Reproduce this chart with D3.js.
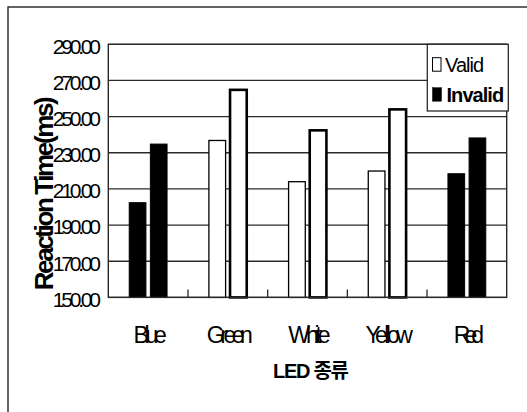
<!DOCTYPE html>
<html>
<head>
<meta charset="utf-8">
<script src="https://cdn.jsdelivr.net/npm/d3@7"></script>
<style>
  html, body { margin: 0; padding: 0; background: #fff; }
  svg { display: block; font-family: "Liberation Sans", Arial, "Noto Sans CJK KR", sans-serif; }
</style>
</head>
<body>
<svg id="chart" width="527" height="412"></svg>
<script>
// LED colour categories and the two reaction-time series (ms)
const categories = ["Blue", "Green", "White", "Yellow", "Red"];
const seriesNames = ["Valid", "Invalid"];
const validTimes = [202.4, 236.8, 214.0, 219.9, 218.4];
const invalidTimes = [234.8, 264.8, 242.4, 254.0, 238.2];
const yTickValues = [150, 170, 190, 210, 230, 250, 270, 290];
const yTitle = "Reaction Time(ms)";
const xTitle = "LED 종류";

const rows = categories.map((c, i) => ({
  category: c,
  values: [
    { series: seriesNames[0], value: validTimes[i] },
    { series: seriesNames[1], value: invalidTimes[i] }
  ]
}));

// plot box
const plotLeft = 108.3, plotRight = 506.7, plotTop = 44.3, plotBottom = 297.4;

const svg = d3.select("#chart");

// outer chart frame (runs past the right and bottom edges)
svg.append("rect")
  .attr("x", 8).attr("y", 7).attr("width", 700).attr("height", 600)
  .attr("fill", "#fff").attr("stroke", "#222").attr("stroke-width", 1.4);

const x0 = d3.scaleBand().domain(categories).range([plotLeft, plotRight]);
const x1 = d3.scaleBand().domain(seriesNames).range([0, x0.bandwidth()])
  .paddingInner(0.21).paddingOuter(0.99);
const y = d3.scaleLinear().domain([150, 290]).range([plotBottom, plotTop]);

// squeeze text horizontally by tightening letter spacing
function squeeze(sel, factor) {
  sel.each(function () {
    const n = this.getComputedTextLength();
    d3.select(this).attr("textLength", n * factor).attr("lengthAdjust", "spacing");
  });
}

// horizontal gridlines
svg.append("g").selectAll("line")
  .data(yTickValues)
  .join("line")
  .attr("x1", plotLeft).attr("x2", plotRight)
  .attr("y1", d => y(d)).attr("y2", d => y(d))
  .attr("stroke", "#2a2a2a").attr("stroke-width", 1.3);

// bars: Blue and Red groups are solid black, the rest are outlined
const solidGroups = new Set(["Blue", "Red"]);
const groups = svg.append("g").selectAll("g")
  .data(rows)
  .join("g")
  .attr("transform", d => `translate(${x0(d.category)},0)`);

groups.selectAll("rect")
  .data(d => d.values.map(v => ({ ...v, category: d.category })))
  .join("rect")
  .attr("x", d => x1(d.series))
  .attr("width", x1.bandwidth())
  .attr("y", d => y(d.value))
  .attr("height", d => y(150) - y(d.value))
  .attr("fill", d => solidGroups.has(d.category) ? "#000" : "#fff")
  .attr("stroke", "#000")
  .attr("stroke-width", d => solidGroups.has(d.category) ? 1 : (d.series === "Valid" ? 1.3 : 2.6));

// plot border
svg.append("rect")
  .attr("x", plotLeft).attr("y", plotTop)
  .attr("width", plotRight - plotLeft).attr("height", plotBottom - plotTop)
  .attr("fill", "none").attr("stroke", "#2a2a2a").attr("stroke-width", 1.4);

// inner category separator ticks
svg.append("g").selectAll("line")
  .data(categories.slice(1))
  .join("line")
  .attr("x1", d => x0(d)).attr("x2", d => x0(d))
  .attr("y1", plotBottom - 8).attr("y2", plotBottom)
  .attr("stroke", "#2a2a2a").attr("stroke-width", 1.3);

// y axis labels
const yAxis = svg.append("g")
  .attr("transform", `translate(${plotLeft},0)`)
  .call(d3.axisLeft(y).tickValues(yTickValues).tickSize(0).tickPadding(7.3)
    .tickFormat(d3.format(".2f")));
yAxis.select(".domain").remove();
yAxis.attr("font-family", null).attr("font-size", null);
yAxis.selectAll("text")
  .attr("font-size", 21)
  .attr("fill", "#000").attr("dy", "0.42em")
  .call(squeeze, 0.75);

// x axis labels
const xAxis = svg.append("g")
  .attr("transform", `translate(0,${plotBottom})`)
  .call(d3.axisBottom(x0).tickSize(0).tickPadding(29.5));
xAxis.select(".domain").remove();
xAxis.attr("font-family", null).attr("font-size", null);
xAxis.selectAll("text")
  .attr("font-size", 23)
  .attr("fill", "#000").attr("dx", 2)
  .call(squeeze, 0.72);

// axis titles
svg.append("text")
  .attr("transform", "translate(52.5,193.3) rotate(-90)")
  .attr("text-anchor", "middle")
  .attr("font-size", 26).attr("font-weight", "bold")
  .attr("textLength", 194).attr("lengthAdjust", "spacing")
  .text(yTitle);

svg.append("text")
  .attr("x", 311).attr("y", 378)
  .attr("text-anchor", "middle")
  .attr("font-size", 20).attr("font-weight", "bold")
  .attr("textLength", 76).attr("lengthAdjust", "spacing")
  .text(xTitle);

// legend
const legend = svg.append("g");
legend.append("rect")
  .attr("x", 427.3).attr("y", plotTop).attr("width", 81).attr("height", 66.7)
  .attr("fill", "#fff").attr("stroke", "#2a2a2a").attr("stroke-width", 1.3);

const legendItems = legend.selectAll("g.item")
  .data(seriesNames)
  .join("g")
  .attr("class", "item")
  .attr("transform", (d, i) => `translate(432,${71.7 + i * 30})`);

legendItems.append("rect")
  .attr("x", 0.5).attr("y", -14)
  .attr("width", d => d === "Valid" ? 8.5 : 9).attr("height", 13.5)
  .attr("fill", d => d === "Valid" ? "#fff" : "#000")
  .attr("stroke", "#000").attr("stroke-width", d => d === "Valid" ? 1 : 0.5);

legendItems.append("text")
  .attr("x", d => d === "Valid" ? 13 : 14.5)
  .attr("y", 0)
  .attr("font-size", 20)
  .attr("font-weight", d => d === "Valid" ? "normal" : "bold")
  .text(d => d)
  .call(squeeze, 0.91);
</script>
</body>
</html>
